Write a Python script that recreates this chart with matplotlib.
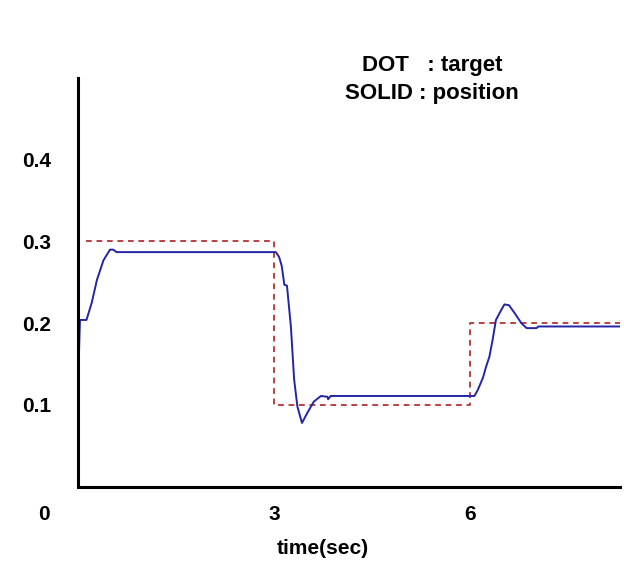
import matplotlib.pyplot as plt
import numpy as np

# target (dotted) - step values
target_t = [0.13, 3.0, 3.0, 6.0, 6.0, 8.3]
target_v = [0.3, 0.3, 0.1, 0.1, 0.2, 0.2]

# measured position (solid)
pos_t = [0.0, 0.0, 0.01, 0.03, 0.13, 0.21, 0.29, 0.39, 0.49, 0.54, 0.59,
         3.03, 3.08, 3.12, 3.16, 3.2, 3.26, 3.31, 3.36, 3.43, 3.51, 3.61,
         3.72, 3.82, 3.83, 3.87, 6.07, 6.12, 6.2, 6.25, 6.3, 6.35, 6.4,
         6.48, 6.53, 6.6, 6.69, 6.79, 6.87, 7.02, 7.05, 8.3]
pos_v = [0.0, 0.1, 0.15, 0.204, 0.204, 0.225, 0.253, 0.277, 0.29, 0.29, 0.287,
         0.287, 0.281, 0.27, 0.247, 0.246, 0.196, 0.131, 0.098, 0.078, 0.09, 0.104,
         0.111, 0.110, 0.107, 0.111, 0.111, 0.118, 0.133, 0.147, 0.159, 0.18, 0.204,
         0.216, 0.223, 0.222, 0.212, 0.2, 0.194, 0.194, 0.196, 0.196]

xticks = [3, 6]
yticks = [0.1, 0.2, 0.3, 0.4]

plt.rcParams['font.family'] = ['Liberation Sans', 'DejaVu Sans']
plt.rcParams['font.weight'] = 'bold'

fig = plt.figure(figsize=(6.24, 5.62), dpi=100)
ax = fig.add_axes([78/624, 1-486.7/562, (620-78)/624, (486.7-78)/562])

ax.plot(target_t, target_v, color='#b83232', lw=1.3, dashes=(3.2, 2.6))
ax.plot(pos_t, pos_v, color='#2424a6', lw=1.4)

ax.set_xlim(0, 8.3)
ax.set_ylim(0, 0.5)
ax.spines['top'].set_visible(False)
ax.spines['right'].set_visible(False)
ax.spines['left'].set_linewidth(2.2)
ax.spines['bottom'].set_linewidth(2.2)
ax.set_xticks(xticks)
ax.set_xticklabels([str(x) for x in xticks])
ax.set_yticks(yticks)
ax.set_yticklabels([str(y) for y in yticks])
ax.tick_params(length=0, labelsize=15)
ax.tick_params(axis='y', pad=19)
ax.tick_params(axis='x', pad=13)
for lab in ax.get_xticklabels() + ax.get_yticklabels():
    lab.set_fontweight('bold')

ax.set_xlabel('time(sec)', fontsize=15, fontweight='bold')
ax.xaxis.set_label_coords((323-78)/542, -(549-486.7)/408.7)
ax.xaxis.label.set_va('center')

fig.text(44/624, 1-514/562, '0', fontsize=15, fontweight='bold', ha='center', va='center')
fig.text(432/624, 1-65/562, 'DOT   : target', fontsize=16, fontweight='bold', ha='center', va='center')
fig.text(432/624, 1-93/562, 'SOLID : position', fontsize=16, fontweight='bold', ha='center', va='center')

fig.savefig('out.png', dpi=100)
